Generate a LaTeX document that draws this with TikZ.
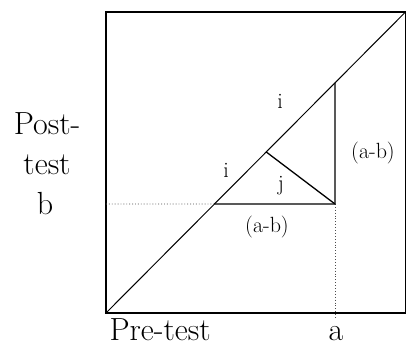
\documentclass[tikz,border=0pt]{standalone}
\usetikzlibrary{calc}
\tikzset{
  bigtext/.style={font=\fontsize{32}{38}\selectfont, inner sep=0pt, text depth=0pt},
  smalltext/.style={font=\fontsize{22}{26}\selectfont, inner sep=0pt},
  guide/.style={dotted, line width=0.9pt, black!70},
  leg/.style={line width=1.3pt}
}
\begin{document}
\begin{tikzpicture}[x=1pt, y=-1pt, line width=1pt]
\useasboundingbox (0,0) rectangle (407,347);

% Frame and diagonal
\coordinate (BL) at (106,313);
\coordinate (TR) at (405.5,12);
\draw[line width=1.4pt] (BL) rectangle (TR);
\draw (BL) -- (TR);

% Pre / post point and guides
\coordinate (P) at (335,204);
\coordinate (L) at (106,204);
\coordinate (D) at (335,318);
\coordinate (Q) at (intersection of BL--TR and L--P);
\coordinate (R) at (intersection of BL--TR and P--D);
\coordinate (S) at ($(BL)!0.535!(TR)$);
\draw[guide] (L) -- (Q);
\draw[guide] (P) -- (D);

% Triangles
\draw[leg] (Q) -- (P) -- (R);
\draw[leg] (S) -- (P);

% Labels
\node[smalltext] (iup) at (280,101) {i};
\node[smalltext] (ileft) at (226,170) {i};
\node[smalltext] (jin) at (281,186) {j};
\node[smalltext] (abbot) at (267,227) {(a-b)};
\node[smalltext] (abright) at (373,153) {(a-b)};

% Axis labels
\node[bigtext, anchor=base] (post) at (47,135) {Post-};
\node[bigtext, anchor=base] (test) at (47,175) {test};
\node[bigtext, anchor=base] (b) at (45,215) {b};
\node[bigtext, anchor=base west] (pre) at (109,341) {Pre-test};
\node[bigtext, anchor=base] (a) at (336,341) {a};

\end{tikzpicture}
\end{document}
